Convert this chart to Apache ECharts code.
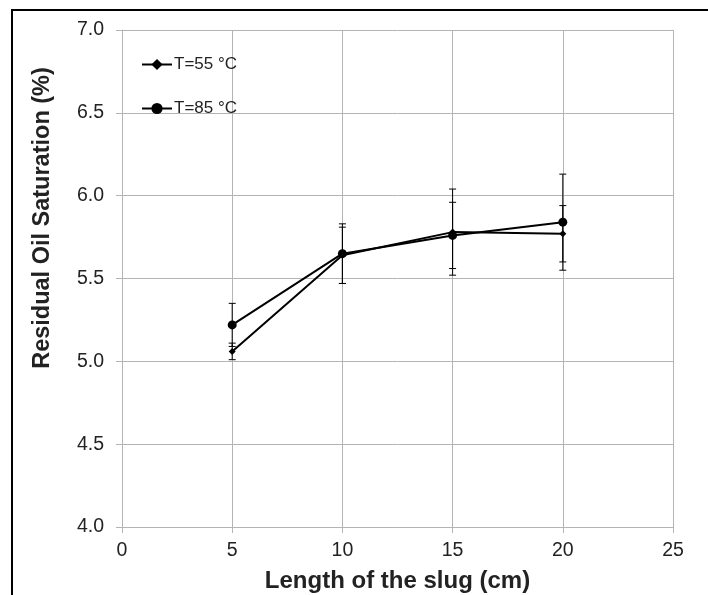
<!DOCTYPE html>
<html>
<head>
<meta charset="utf-8">
<script src="https://cdn.jsdelivr.net/npm/echarts@6/dist/echarts.min.js"></script>
<style>
  html, body { margin: 0; padding: 0; background: #fff; }
  #chart { width: 708px; height: 595px; }
</style>
</head>
<body>
<div id="chart"></div>
<script>
// Slug lengths (cm)
const slugLength = [5, 10, 15, 20];

// Residual oil saturation (%) at each slug length
const sor55 = [5.06, 5.64, 5.78, 5.77];
const sor85 = [5.22, 5.65, 5.76, 5.84];

// Half-width of the error bars (%)
const err55 = [0.05, 0.17, 0.26, 0.17];
const err85 = [0.13, 0.18, 0.20, 0.29];

// Axis ticks
const xTicks = [0, 5, 10, 15, 20, 25];
const yTicks = [4.0, 4.5, 5.0, 5.5, 6.0, 6.5, 7.0];

const seriesNames = ['T=55 °C', 'T=85 °C'];
const yTitle = 'Residual Oil Saturation (%)';
const xTitle = 'Length of the slug (cm)';

const pairs = (vals) => slugLength.map((x, i) => [x, vals[i]]);
const errRows = (vals, errs) => slugLength.map((x, i) => [x, vals[i] - errs[i], vals[i] + errs[i]]);

// Vertical whisker with a short cap at each end
function errorBar(params, api) {
  const x = api.value(0);
  const lo = api.coord([x, api.value(1)]);
  const hi = api.coord([x, api.value(2)]);
  const cap = 3.5;
  const style = { stroke: '#000', lineWidth: 1 };
  return {
    type: 'group',
    children: [
      { type: 'line', shape: { x1: hi[0], y1: hi[1], x2: lo[0], y2: lo[1] }, style },
      { type: 'line', shape: { x1: hi[0] - cap, y1: hi[1], x2: hi[0] + cap, y2: hi[1] }, style },
      { type: 'line', shape: { x1: lo[0] - cap, y1: lo[1], x2: lo[0] + cap, y2: lo[1] }, style }
    ]
  };
}

const chart = echarts.init(document.getElementById('chart'), null, { renderer: 'canvas' });

const gridColor = '#b4b4b4';
const textColor = '#222';
const font = 'Liberation Sans, Arial, sans-serif';

chart.setOption({
  animation: false,
  backgroundColor: '#fff',
  graphic: [
    {
      type: 'rect',
      shape: { x: 12, y: 10, width: 720, height: 620 },
      style: { fill: 'none', stroke: '#000', lineWidth: 2 },
      silent: true
    },
    {
      type: 'text',
      x: 42.5,
      y: 218,
      rotation: Math.PI / 2,
      style: {
        text: yTitle,
        fontFamily: font,
        fontSize: 23.5,
        fontWeight: 'bold',
        fill: textColor,
        align: 'center',
        verticalAlign: 'middle'
      },
      silent: true
    }
  ],
  legend: {
    orient: 'vertical',
    left: 136,
    top: 51,
    itemGap: 27,
    itemWidth: 30,
    itemHeight: 14,
    textStyle: { fontFamily: font, fontSize: 17, lineHeight: 14, color: textColor, padding: [0, 0, 0, -3] },
    data: seriesNames
  },
  grid: { left: 122, right: 35, top: 30, bottom: 68, outerBoundsMode: 'none', containLabel: false },
  xAxis: {
    type: 'value',
    min: xTicks[0],
    max: xTicks[xTicks.length - 1],
    interval: 5,
    name: xTitle,
    nameLocation: 'middle',
    nameGap: 42,
    nameTextStyle: { fontFamily: font, fontSize: 24, fontWeight: 'bold', color: textColor },
    axisLine: { lineStyle: { color: gridColor, width: 1 } },
    axisTick: { show: true, length: 6, lineStyle: { color: gridColor } },
    axisLabel: { fontFamily: font, fontSize: 19.5, color: textColor, margin: 14 },
    splitLine: { show: true, lineStyle: { color: gridColor, width: 1 } }
  },
  yAxis: {
    type: 'value',
    min: yTicks[0],
    max: yTicks[yTicks.length - 1],
    interval: 0.5,
    axisLine: { show: true, lineStyle: { color: gridColor, width: 1 } },
    axisTick: { show: true, length: 6, lineStyle: { color: gridColor } },
    axisLabel: {
      fontFamily: font, fontSize: 19.5, color: textColor, margin: 18,
      formatter: (v) => v.toFixed(1)
    },
    splitLine: { show: true, lineStyle: { color: gridColor, width: 1 } }
  },
  series: [
    {
      type: 'custom',
      renderItem: errorBar,
      data: errRows(sor55, err55),
      z: 1,
      silent: true
    },
    {
      type: 'custom',
      renderItem: errorBar,
      data: errRows(sor85, err85),
      z: 1,
      silent: true
    },
    {
      name: seriesNames[0],
      type: 'line',
      data: pairs(sor55),
      symbol: 'diamond',
      symbolSize: 7,
      lineStyle: { color: '#000', width: 2 },
      itemStyle: { color: '#000' },
      z: 3
    },
    {
      name: seriesNames[1],
      type: 'line',
      data: pairs(sor85),
      symbol: 'circle',
      symbolSize: 9,
      lineStyle: { color: '#000', width: 2 },
      itemStyle: { color: '#000' },
      z: 3
    }
  ]
});
</script>
</body>
</html>
